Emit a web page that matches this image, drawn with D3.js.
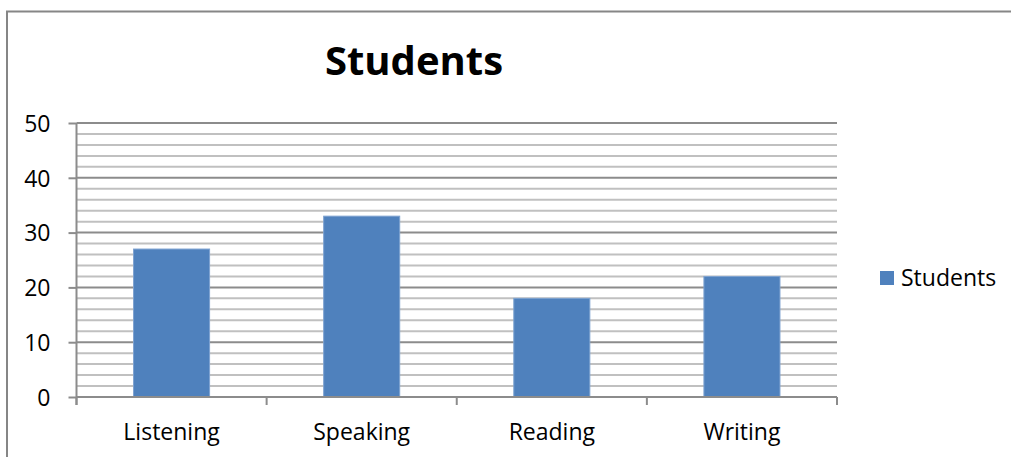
<!DOCTYPE html>
<html>
<head>
<meta charset="utf-8">
<script src="https://cdn.jsdelivr.net/npm/d3@7"></script>
<style>
  html, body { margin: 0; padding: 0; background: #fff; }
  svg { display: block; }
  text { font-family: "Open Sans", Lato, sans-serif; fill: #000; }
</style>
</head>
<body>
<svg id="chart" width="1011" height="457"></svg>
<script>
// Data
const categories = ["Listening", "Speaking", "Reading", "Writing"];
const studentValues = [27, 33, 18, 22];
const seriesName = "Students";
const yTicks = [0, 10, 20, 30, 40, 50];
const yMinorTicks = d3.range(0, 51, 2);

const svg = d3.select("#chart");
const W = 1011, H = 457;
const FONT = "'Open Sans', Lato, sans-serif";
const LABEL_SIZE = 23;

// Outer chart frame
svg.append("rect")
  .attr("x", 7).attr("y", 11.5)
  .attr("width", W + 10).attr("height", H + 10)
  .attr("fill", "#fff").attr("stroke", "#868686").attr("stroke-width", 2);

const plot = { left: 76.5, right: 837, top: 123, bottom: 397 };

const x = d3.scaleBand()
  .domain(categories)
  .range([plot.left, plot.right])
  .paddingInner(0.6)
  .paddingOuter(0.3);

const xBounds = d3.scaleLinear()
  .domain([0, categories.length])
  .range([plot.left, plot.right]);

const y = d3.scaleLinear()
  .domain([0, 50])
  .range([plot.bottom, plot.top]);

// Minor gridlines
svg.append("g")
  .selectAll("line")
  .data(yMinorTicks.filter(v => v % 10 !== 0))
  .join("line")
  .attr("x1", plot.left).attr("x2", plot.right)
  .attr("y1", d => y(d)).attr("y2", d => y(d))
  .attr("stroke", "#c0c0c0").attr("stroke-width", 2);

// Major gridlines
svg.append("g")
  .selectAll("line")
  .data(yTicks.filter(v => v !== 0))
  .join("line")
  .attr("x1", plot.left).attr("x2", plot.right)
  .attr("y1", d => y(d)).attr("y2", d => y(d))
  .attr("stroke", "#8c8c8c").attr("stroke-width", 2);

// Bars
svg.append("g")
  .selectAll("rect")
  .data(categories.map((c, i) => ({ c, v: studentValues[i] })))
  .join("rect")
  .attr("x", d => x(d.c))
  .attr("y", d => y(d.v))
  .attr("width", x.bandwidth())
  .attr("height", d => y(0) - y(d.v))
  .attr("fill", "#4f81bd")
  .attr("stroke", "#7ea3d1")
  .attr("stroke-width", 1);

// Y axis
const yAxis = d3.axisLeft(y)
  .tickValues(yTicks)
  .tickSize(8)
  .tickPadding(18)
  .tickFormat(d3.format("d"));

const gy = svg.append("g")
  .attr("transform", `translate(${plot.left},0)`)
  .call(yAxis);
gy.select(".domain").attr("stroke", "#8c8c8c").attr("stroke-width", 2)
  .attr("d", `M0,${plot.top}V${plot.bottom + 8}`);
gy.selectAll(".tick line").attr("stroke", "#8c8c8c").attr("stroke-width", 2);
gy.selectAll(".tick text")
  .style("font-family", FONT)
  .attr("font-size", LABEL_SIZE).attr("fill", "#000").attr("dy", "0.36em");

// X axis: baseline, boundary ticks, category labels
const gx = svg.append("g");
gx.append("line")
  .attr("x1", plot.left).attr("x2", plot.right)
  .attr("y1", y(0)).attr("y2", y(0))
  .attr("stroke", "#8c8c8c").attr("stroke-width", 2);
gx.selectAll("line.b")
  .data(d3.range(0, categories.length + 1))
  .join("line")
  .attr("class", "b")
  .attr("x1", d => xBounds(d)).attr("x2", d => xBounds(d))
  .attr("y1", y(0)).attr("y2", y(0) + 8)
  .attr("stroke", "#8c8c8c").attr("stroke-width", 2);
gx.selectAll("text")
  .data(categories)
  .join("text")
  .attr("x", d => x(d) + x.bandwidth() / 2)
  .attr("y", 440)
  .attr("text-anchor", "middle")
  .attr("font-size", LABEL_SIZE)
  .text(d => d);

// Title
svg.append("text")
  .attr("x", 414).attr("y", 75)
  .attr("text-anchor", "middle")
  .attr("font-size", 40)
  .attr("font-weight", "bold")
  .text(seriesName);

// Legend
const lg = svg.append("g").attr("transform", "translate(880,271)");
lg.append("rect").attr("width", 14).attr("height", 14).attr("fill", "#4f81bd");
lg.append("text").attr("x", 21).attr("y", 15).attr("font-size", LABEL_SIZE).text(seriesName);
</script>
</body>
</html>
